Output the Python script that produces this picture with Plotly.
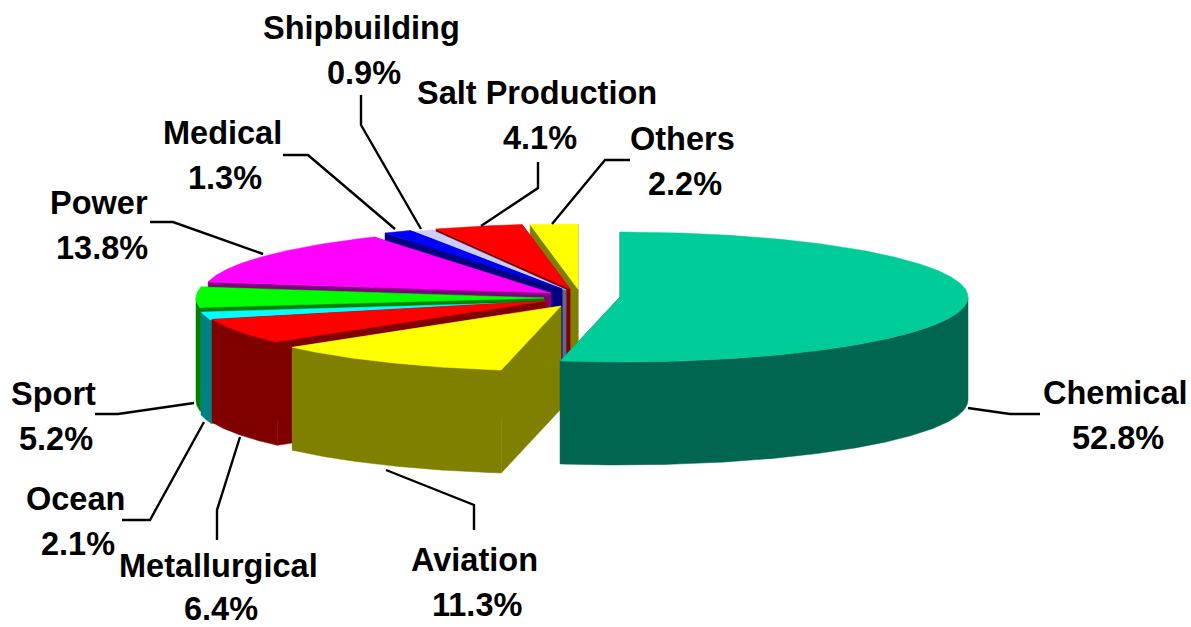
import numpy as np
import plotly.graph_objects as go

categories = ["Chemical", "Aviation", "Metallurgical", "Ocean", "Sport", "Power",
              "Medical", "Shipbuilding", "Salt Production", "Others"]
shares = [52.8, 11.3, 6.4, 2.1, 5.2, 13.8, 1.3, 0.9, 4.1, 2.2]
top_colors = ["#00CC99", "#FFFF00", "#FF0000", "#00FFFF", "#00FF00", "#FF00FF",
              "#0000FF", "#CCCCFF", "#FF0000", "#FFFF00"]
wall_colors = ["#006650", "#808000", "#800000", "#008080", "#008000", "#800080",
               "#000080", "#666680", "#800000", "#808000"]
# exploded apex of each slice, in pixels of the page
apex_x = [620, 561, 546, 545, 544, 551, 562, 566, 570, 578]
apex_y = [297, 306, 301, 302, 298, 293, 289, 290, 289, 289]
RX, RY, DEPTH = 348, 65, 103

label_line1 = [(1115, 393), (474, 560), (218, 566), (75, 499), (53, 394),
               (99, 203), (222, 133), (361, 28), (537, 93), (682, 139)]
label_line2 = [(1118, 438), (477, 605), (221, 609), (78, 544), (56, 439),
               (102, 248), (225, 178), (364, 73), (540, 138), (685, 184)]
leaders = [
    [(968, 408), (1010, 414), (1040, 414)],
    [(386, 470), (474, 505), (474, 530)],
    [(240, 437), (217, 510), (217, 540)],
    [(204, 422), (150, 520), (122, 520)],
    [(194, 403), (118, 414), (95, 414)],
    [(263, 254), (173, 222), (150, 222)],
    [(395, 229), (308, 155), (283, 155)],
    [(421, 229), (361, 125), (361, 95)],
    [(481, 226), (538, 188), (538, 162)],
    [(552, 224), (605, 160), (630, 160)],
]

total = sum(shares)
edges = np.concatenate([[0], np.cumsum(shares)]) / total * 360.0


def arc(cx, cy, a0, a1, drop=0.0):
    t = np.radians(np.linspace(a0, a1, max(2, int(abs(a1 - a0) * 2) + 2)))
    return cx + RX * np.sin(t), cy - RY * np.cos(t) + drop


def poly(fig, xs, ys, color, name):
    fig.add_trace(go.Scatter(x=list(xs) + [xs[0]], y=list(ys) + [ys[0]], mode="lines",
                             fill="toself", fillcolor=color,
                             line=dict(color=color, width=0.5),
                             name=name, hoverinfo="name", showlegend=False))


fig = go.Figure()
# painter's order: back slices first, the Chemical slice last
for i in list(range(len(shares) - 1, 0, -1)) + [0]:
    a0, a1 = edges[i], edges[i + 1]
    cx, cy = apex_x[i], apex_y[i]
    name = categories[i]
    for a in (a1, a0):
        x, y = arc(cx, cy, a, a)
        ex, ey = x[0], y[0]
        poly(fig, [cx, ex, ex, cx], [cy, ey, ey + DEPTH, cy + DEPTH], wall_colors[i], name)
    w0, w1 = max(a0, 90.0), min(a1, 270.0)
    if w1 > w0:
        xt, yt = arc(cx, cy, w0, w1)
        xb, yb = arc(cx, cy, w1, w0, DEPTH)
        poly(fig, np.r_[xt, xb], np.r_[yt, yb], wall_colors[i], name)
    xt, yt = arc(cx, cy, a0, a1)
    poly(fig, np.r_[cx, xt], np.r_[cy, yt], top_colors[i], name)

for pts in leaders:
    fig.add_trace(go.Scatter(x=[p[0] for p in pts], y=[p[1] for p in pts], mode="lines",
                             line=dict(color="black", width=2.4), hoverinfo="skip",
                             showlegend=False))

font = dict(family="Liberation Sans", size=32.5, color="black")
ann = []
for c, s, p1, p2 in zip(categories, shares, label_line1, label_line2):
    ann.append(dict(x=p1[0], y=p1[1], text=f"<b>{c}</b>", showarrow=False, font=font,
                    xanchor="center", yanchor="middle"))
    ann.append(dict(x=p2[0], y=p2[1], text=f"<b>{s:.1f}%</b>", showarrow=False, font=font,
                    xanchor="center", yanchor="middle"))

fig.update_layout(
    width=1191, height=627, margin=dict(l=0, r=0, t=0, b=0),
    paper_bgcolor="white", plot_bgcolor="white", annotations=ann,
    xaxis=dict(range=[0, 1191], visible=False, fixedrange=True),
    yaxis=dict(range=[627, 0], visible=False, fixedrange=True),
)
fig.write_html("out.html", config={"displayModeBar": False},
               post_script="document.body.style.margin='0';document.documentElement.style.overflow='hidden';")
